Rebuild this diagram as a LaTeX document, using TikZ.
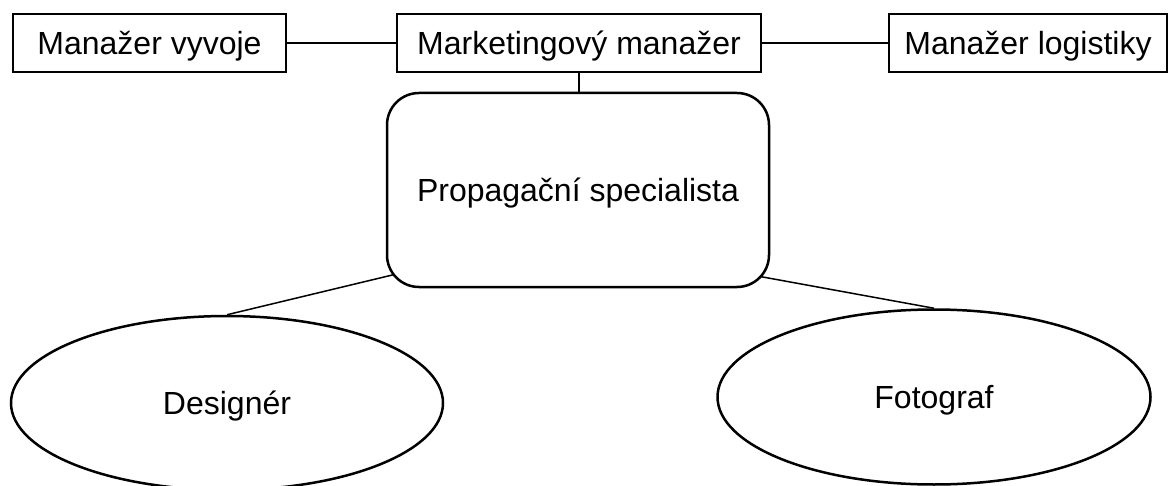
\documentclass[tikz,border=0pt]{standalone}
\usepackage{fontspec}
\setmainfont{Liberation Sans}
\usetikzlibrary{shapes.geometric,backgrounds,calc}
\begin{document}
\begin{tikzpicture}[x=1pt,y=-1pt,
  font=\fontsize{32}{38}\selectfont,
  topbox/.style={draw, line width=1.5pt, fill=white, rectangle, minimum height=58pt, inner sep=0pt, text depth=0pt},
  midbox/.style={draw, line width=2.5pt, fill=white, rectangle, rounded corners=32pt, minimum width=382pt, minimum height=194pt, inner sep=0pt, text depth=0pt},
  oval/.style={draw, line width=2.5pt, fill=white, ellipse, inner sep=0pt, text depth=0pt},
  conn/.style={draw, line width=1.5pt}]
\useasboundingbox (0,0) rectangle (1169,486);
\node[topbox, minimum width=273pt] (v) at (149.5,43) {Manažer vyvoje};
\node[topbox, minimum width=364pt] (m) at (579,43) {Marketingový manažer};
\node[topbox, minimum width=278pt] (l) at (1028,43) {Manažer logistiky};
\node[midbox] (p) at (578,190) {Propagační specialista};
\node[oval, minimum width=432pt, minimum height=174pt] (d) at (227,403) {Designér};
\node[oval, minimum width=433pt, minimum height=175pt] (f) at (934,397) {Fotograf};
\begin{scope}[on background layer]
\draw[conn] (v.east) -- (m.west);
\draw[conn] (m.east) -- (l.west);
\draw[conn] (m.south) -- (m.south |- p.north);
\draw[conn] (d.north) -- ($(p.south west)+(43,-22)$);
\draw[conn] (f.north) -- ($(p.south east)+(-39,-17)$);
\end{scope}
\end{tikzpicture}
\end{document}
